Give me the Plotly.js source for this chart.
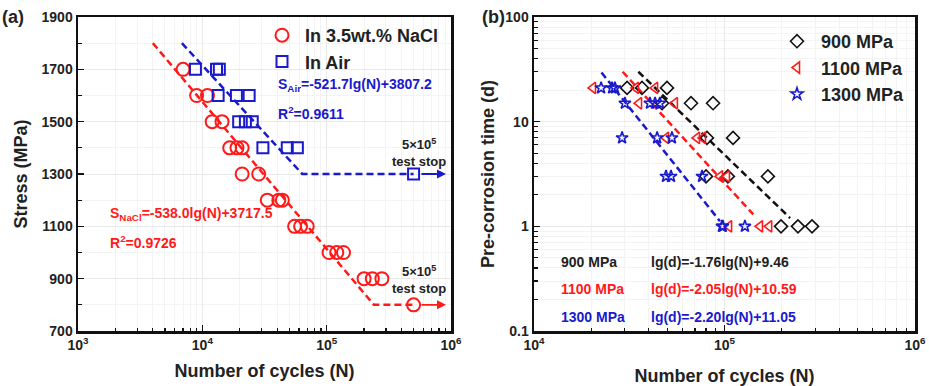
<!DOCTYPE html>
<html><head><meta charset="utf-8">
<script src="https://cdn.plot.ly/plotly-3.0.1.min.js"></script>
<style>html,body{margin:0;padding:0;background:#fff}#c{width:929px;height:386px}</style>
</head><body><div id="c"></div>
<script>
// ---- Panel (a) data ----
const naclN = [7000, 9000, 11000, 12000, 14400, 16600, 19000, 20900, 20900, 28400, 33300, 41200, 44000, 55200, 61700, 69800, 104500, 120500, 136500, 200000, 233000, 278000, 500000];
const naclS = [1700, 1600, 1600, 1500, 1500, 1400, 1400, 1400, 1300, 1300, 1200, 1200, 1200, 1100, 1100, 1100, 1000, 1000, 1000, 900, 900, 900, 800];
const airN = [8800, 13000, 13700, 13400, 18800, 23800, 19600, 22200, 25200, 30700, 48200, 58100, 500000];
const airS = [1700, 1700, 1700, 1600, 1600, 1600, 1500, 1500, 1500, 1400, 1400, 1400, 1300];
const naclFitN = [4000, 240000, 500000];
const naclFitS = [1800, 800, 800];
const airFitN = [6850, 63700, 500000];
const airFitS = [1800, 1300, 1300];
// ---- Panel (b) data ----
const n900 = [30800, 36900, 49900, 47000, 66700, 87100, 80900, 110900, 80000, 104200, 169000, 198000, 243000, 288000];
const d900 = [21, 21, 21, 15, 15, 15, 7, 7, 3, 3, 3, 1, 1, 1];
const n1100 = [20400, 34300, 43200, 35600, 54900, 49300, 71700, 77100, 94700, 103000, 105700, 153600, 171600];
const d1100 = [21, 21, 21, 15, 15, 7, 7, 7, 3, 3, 1, 1, 1];
const n1300 = [22500, 25700, 26600, 30000, 40600, 43200, 45800, 29000, 44300, 53000, 49300, 52400, 76200, 97000, 98000, 128000];
const d1300 = [21, 21, 21, 15, 15, 15, 15, 7, 7, 7, 3, 3, 3, 1, 1, 1];
const fit900N = [35300, 221000], fit900D = [30, 1.2];
const fit1100N = [29200, 141600], fit1100D = [30, 1.3];
const fit1300N = [22600, 94600], fit1300D = [29.5, 1.12];
// tick labels
const xTickVals1 = [1e3, 1e4, 1e5, 1e6];
const xTickText1 = ['10<sup>3</sup>', '10<sup>4</sup>', '10<sup>5</sup>', '10<sup>6</sup>'];
const yTickVals1 = [700, 900, 1100, 1300, 1500, 1700, 1900];
const xTickVals2 = [1e4, 1e5, 1e6];
const xTickText2 = ['10<sup>4</sup>', '10<sup>5</sup>', '10<sup>6</sup>'];
const yTickVals2 = [0.1, 1, 10, 100];
const yTickText2 = ['0.1', '1', '10', '100'];

const RED = '#ff1a1a', BLUE = '#1a1acc', BLACK = '#111';
const FF = 'Liberation Sans, Arial, sans-serif';
const W = 929, H = 386;
const px = x => x / W, py = y => 1 - y / H;
const dashS = '7px,4px';

const traces = [
  {x: naclFitN, y: naclFitS, mode: 'lines', line: {color: RED, width: 2.5, dash: dashS}, showlegend: false, xaxis: 'x', yaxis: 'y', hoverinfo: 'skip'},
  {x: airFitN, y: airFitS, mode: 'lines', line: {color: BLUE, width: 2.5, dash: dashS}, showlegend: false, xaxis: 'x', yaxis: 'y', hoverinfo: 'skip'},
  {x: naclN, y: naclS, mode: 'markers', name: '<b>In 3.5wt.% NaCl</b>', marker: {symbol: 'circle-open', size: 13, color: RED, line: {width: 2, color: RED}}, xaxis: 'x', yaxis: 'y', legend: 'legend'},
  {x: airN, y: airS, mode: 'markers', name: '<b>In Air</b>', marker: {symbol: 'square-open', size: 11, color: BLUE, line: {width: 2, color: BLUE}}, xaxis: 'x', yaxis: 'y', legend: 'legend'},
  {x: fit900N, y: fit900D, mode: 'lines', line: {color: BLACK, width: 2.5, dash: dashS}, showlegend: false, xaxis: 'x2', yaxis: 'y2', hoverinfo: 'skip'},
  {x: fit1100N, y: fit1100D, mode: 'lines', line: {color: RED, width: 2.5, dash: dashS}, showlegend: false, xaxis: 'x2', yaxis: 'y2', hoverinfo: 'skip'},
  {x: fit1300N, y: fit1300D, mode: 'lines', line: {color: BLUE, width: 2.5, dash: dashS}, showlegend: false, xaxis: 'x2', yaxis: 'y2', hoverinfo: 'skip'},
  {x: n900, y: d900, mode: 'markers', name: '<b>900 MPa</b>', marker: {symbol: 'diamond-open', size: 10, color: BLACK, line: {width: 1.6, color: BLACK}}, xaxis: 'x2', yaxis: 'y2', legend: 'legend2'},
  {x: n1100, y: d1100, mode: 'markers', name: '<b>1100 MPa</b>', marker: {symbol: 'triangle-left-open', size: 10, color: RED, line: {width: 1.6, color: RED}}, xaxis: 'x2', yaxis: 'y2', legend: 'legend2'},
  {x: n1300, y: d1300, mode: 'markers', name: '<b>1300 MPa</b>', marker: {symbol: 'star-open', size: 9, color: BLUE, line: {width: 1.6, color: BLUE}}, xaxis: 'x2', yaxis: 'y2', legend: 'legend2'}
];

const tickFont = {family: FF, size: 14, color: '#222', weight: 'bold'};
const titleFont = {family: FF, size: 18, color: '#222', weight: 'bold'};
const axBase = {
  showline: true, linecolor: '#111', linewidth: 2.5, mirror: true,
  ticks: 'inside', ticklen: 6, tickwidth: 1.5, tickcolor: '#111',
  tickfont: tickFont, showgrid: true, gridcolor: '#e9e9e9', gridwidth: 1, zeroline: false,
  automargin: false
};
const logMinor = {ticks: 'inside', ticklen: 3.5, tickwidth: 1.2, tickcolor: '#111', dtick: 'D1', showgrid: true, gridcolor: '#f3f3f3', gridwidth: 1};

const legFont = {family: FF, size: 18, color: '#222', weight: 'bold'};
const layout = {
  width: W, height: H, margin: {l: 0, r: 0, t: 0, b: 0},
  paper_bgcolor: '#fff', plot_bgcolor: '#fff',
  font: {family: FF, color: '#222'},
  xaxis: Object.assign({}, axBase, {type: 'log', domain: [px(78), px(451)], range: [3, 6], tickmode: 'array', tickvals: xTickVals1, ticktext: xTickText1, minor: logMinor,
    title: {text: 'Number of cycles (N)', font: titleFont, standoff: 12}, anchor: 'y'}),
  yaxis: Object.assign({}, axBase, {domain: [py(331), py(17)], range: [700, 1900], tickmode: 'array', tickvals: yTickVals1,
    minor: {ticks: 'inside', ticklen: 3.5, tickwidth: 1.2, tickcolor: '#111', dtick: 100, tick0: 700, showgrid: true, gridcolor: '#f3f3f3'},
    title: {text: 'Stress (MPa)', font: titleFont, standoff: 9}, anchor: 'x'}),
  xaxis2: Object.assign({}, axBase, {type: 'log', domain: [px(534), px(915)], range: [4, 6], tickmode: 'array', tickvals: xTickVals2, ticktext: xTickText2, minor: logMinor,
    title: {text: 'Number of cycles (N)', font: titleFont, standoff: 17}, anchor: 'y2'}),
  yaxis2: Object.assign({}, axBase, {type: 'log', domain: [py(331), py(17)], range: [-1, 2], tickmode: 'array', tickvals: yTickVals2, ticktext: yTickText2, minor: logMinor,
    title: {text: 'Pre-corrosion time (d)', font: titleFont, standoff: 6}, anchor: 'x2'}),
  legend: {x: px(259), y: py(17), xanchor: 'left', yanchor: 'top', bgcolor: 'rgba(0,0,0,0)', font: legFont, itemwidth: 36, tracegroupgap: 0},
  legend2: {x: px(773), y: py(23), xanchor: 'left', yanchor: 'top', bgcolor: 'rgba(0,0,0,0)', font: legFont, itemwidth: 38, tracegroupgap: 0},
  showlegend: true,
  annotations: [
    {xref: 'paper', yref: 'paper', x: px(0), y: py(17), xanchor: 'left', yanchor: 'middle', text: '<b>(a)</b>', showarrow: false, font: {family: FF, size: 18, color: '#222', weight: 'bold'}},
    {xref: 'paper', yref: 'paper', x: px(480), y: py(17), xanchor: 'left', yanchor: 'middle', text: '<b>(b)</b>', showarrow: false, font: {family: FF, size: 18, color: '#222', weight: 'bold'}},
    {xref: 'paper', yref: 'paper', x: px(276), y: py(85), xanchor: 'left', yanchor: 'middle', text: 'S<sub>Air</sub>=-521.7lg(N)+3807.2', showarrow: false, font: {family: FF, size: 14, color: BLUE, weight: 'bold'}},
    {xref: 'paper', yref: 'paper', x: px(276), y: py(113), xanchor: 'left', yanchor: 'middle', text: 'R<sup>2</sup>=0.9611', showarrow: false, font: {family: FF, size: 14, color: BLUE, weight: 'bold'}},
    {xref: 'paper', yref: 'paper', x: px(108), y: py(214), xanchor: 'left', yanchor: 'middle', text: 'S<sub>NaCl</sub>=-538.0lg(N)+3717.5', showarrow: false, font: {family: FF, size: 14, color: RED, weight: 'bold'}},
    {xref: 'paper', yref: 'paper', x: px(108), y: py(242), xanchor: 'left', yanchor: 'middle', text: 'R<sup>2</sup>=0.9726', showarrow: false, font: {family: FF, size: 14, color: RED, weight: 'bold'}},
    {xref: 'paper', yref: 'paper', x: px(419), y: py(152), xanchor: 'center', yanchor: 'middle', text: '5×10<sup>5</sup><br>test stop', showarrow: false, font: {family: FF, size: 13, color: '#222', weight: 'bold'}},
    {xref: 'paper', yref: 'paper', x: px(419), y: py(279), xanchor: 'center', yanchor: 'middle', text: '5×10<sup>5</sup><br>test stop', showarrow: false, font: {family: FF, size: 13, color: '#222', weight: 'bold'}},
    {xref: 'x', yref: 'y', x: 5.96, y: 1300, axref: 'x', ayref: 'y', ax: 5.75, ay: 1300, text: '', showarrow: true, arrowhead: 2, arrowsize: 1, arrowwidth: 1.8, arrowcolor: BLUE},
    {xref: 'x', yref: 'y', x: 5.96, y: 800, axref: 'x', ayref: 'y', ax: 5.75, ay: 800, text: '', showarrow: true, arrowhead: 2, arrowsize: 1, arrowwidth: 1.8, arrowcolor: RED},
    {xref: 'paper', yref: 'paper', x: px(559), y: py(262), xanchor: 'left', yanchor: 'middle', text: '900 MPa', showarrow: false, font: {family: FF, size: 14, color: '#222', weight: 'bold'}},
    {xref: 'paper', yref: 'paper', x: px(559), y: py(289), xanchor: 'left', yanchor: 'middle', text: '1100 MPa', showarrow: false, font: {family: FF, size: 14, color: RED, weight: 'bold'}},
    {xref: 'paper', yref: 'paper', x: px(559), y: py(317), xanchor: 'left', yanchor: 'middle', text: '1300 MPa', showarrow: false, font: {family: FF, size: 14, color: BLUE, weight: 'bold'}},
    {xref: 'paper', yref: 'paper', x: px(649), y: py(262), xanchor: 'left', yanchor: 'middle', text: 'lg(d)=-1.76lg(N)+9.46', showarrow: false, font: {family: FF, size: 14, color: '#222', weight: 'bold'}},
    {xref: 'paper', yref: 'paper', x: px(649), y: py(289), xanchor: 'left', yanchor: 'middle', text: 'lg(d)=-2.05lg(N)+10.59', showarrow: false, font: {family: FF, size: 14, color: RED, weight: 'bold'}},
    {xref: 'paper', yref: 'paper', x: px(649), y: py(317), xanchor: 'left', yanchor: 'middle', text: 'lg(d)=-2.20lg(N)+11.05', showarrow: false, font: {family: FF, size: 14, color: BLUE, weight: 'bold'}}
  ]
};
Plotly.newPlot('c', traces, layout, {staticPlot: true, displayModeBar: false});
</script></body></html>
